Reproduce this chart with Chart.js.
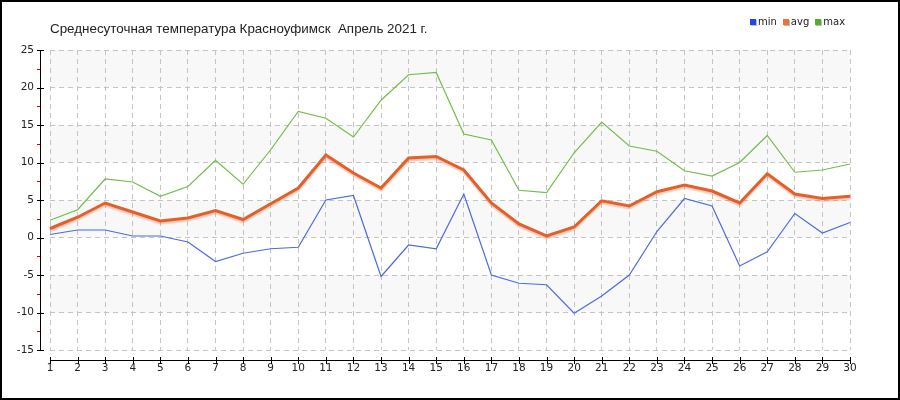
<!DOCTYPE html>
<html>
<head>
<meta charset="utf-8">
<script src="https://cdn.jsdelivr.net/npm/chart.js@4"></script>
<style>
	body { margin: 0; background: #fff; }
	#wrap { position: relative; width: 900px; height: 400px; }
	#title {
		position: absolute; left: 50px; top: 21px;
		font: 13.4px 'Liberation Sans', Arial, sans-serif; color: #222; white-space: pre;
	}
	#legend {
		position: absolute; left: 750px; top: 16px;
		font: 10px 'DejaVu Sans', Verdana, sans-serif; color: #222;
	}
	#legend span.item { margin-right: 6px; }
	#legend i {
		display: inline-block; width: 6px; height: 6px; margin-right: 2px;
		box-shadow: 1px 1px 0 #bbb;
	}
</style>
</head>
<body>
<div id="wrap">
	<canvas id="chart" width="900" height="400"></canvas>
	<div id="title">Среднесуточная температура Красноуфимск  Апрель 2021 г.</div>
	<div id="legend"></div>
</div>
<script>
// --- data ---
const days = ['1', '2', '3', '4', '5', '6', '7', '8', '9', '10', '11', '12', '13', '14', '15',
	'16', '17', '18', '19', '20', '21', '22', '23', '24', '25', '26', '27', '28', '29', '30'];
const tMin = [0.4, 1.0, 1.0, 0.2, 0.2, -0.6, -3.2, -2.1, -1.5, -1.3, 5.0, 5.6, -5.2, -1.0, -1.5,
	5.8, -5.0, -6.1, -6.3, -10.1, -7.8, -5.0, 0.8, 5.2, 4.2, -3.8, -1.9, 3.2, 0.6, 2.0];
const tAvg = [1.2, 2.7, 4.6, 3.4, 2.2, 2.6, 3.6, 2.4, 4.5, 6.6, 11.0, 8.6, 6.6, 10.6, 10.8,
	9.0, 4.6, 1.8, 0.2, 1.4, 4.9, 4.2, 6.1, 7.0, 6.2, 4.6, 8.5, 5.8, 5.2, 5.5];
const tMax = [2.3, 3.7, 7.8, 7.4, 5.5, 6.8, 10.3, 7.1, 11.7, 16.8, 15.9, 13.4, 18.3, 21.7, 22.0,
	13.8, 13.0, 6.3, 6.0, 11.3, 15.4, 12.2, 11.5, 8.9, 8.2, 10.0, 13.6, 8.7, 9.0, 9.8];
const seriesNames = ['min', 'avg', 'max'];
const yMin = -15;
const yMax = 25;
const yStep = 5;

const lineColors = ['#4a6be6', '#e2602a', '#72bd4a'];
const legendColors = ['#2347e6', '#f0703a', '#4fb02d'];

// legend (html)
const legend = document.getElementById('legend');
seriesNames.forEach((n, i) => {
	legend.innerHTML += `<span class="item"><i style="background:${legendColors[i]}"></i>${n}</span>`;
});

// alternating light bands between major ticks
const bandPlugin = {
	id: 'bands',
	beforeDraw(chart) {
		const { ctx, chartArea, scales: { y } } = chart;
		ctx.save();
		ctx.fillStyle = '#f8f8f8';
		for (let v = yMax; v > yMin; v -= yStep) {
			// gray for 20..25, 10..15, 0..5, -10..-5
			if (((yMax - v) / yStep) % 2 === 0) {
				const top = y.getPixelForValue(v);
				const bottom = y.getPixelForValue(v - yStep);
				ctx.fillRect(chartArea.left, top, chartArea.right - chartArea.left, bottom - top);
			}
		}
		ctx.restore();
	}
};

// soft shadow under the avg line
const shadowPlugin = {
	id: 'avgShadow',
	beforeDatasetDraw(chart, args) {
		if (args.index !== 1) return;
		const ctx = chart.ctx;
		ctx.save();
		ctx.shadowColor = 'rgba(235, 110, 70, 0.35)';
		ctx.shadowOffsetY = 2;
		ctx.shadowBlur = 1;
	},
	afterDatasetDraw(chart, args) {
		if (args.index !== 1) return;
		chart.ctx.restore();
	}
};

// axis lines drawn a little away from the plot, plus tick marks and frame
const axesPlugin = {
	id: 'axes',
	afterDraw(chart) {
		const { ctx, chartArea, scales: { x, y } } = chart;
		const ax = chartArea.left - 10;
		const ay = chartArea.bottom + 10;
		ctx.save();
		ctx.strokeStyle = '#000';
		ctx.lineWidth = 1;
		ctx.beginPath();
		ctx.moveTo(ax + 0.5, chartArea.top);
		ctx.lineTo(ax + 0.5, chartArea.bottom + 1);
		ctx.moveTo(chartArea.left, ay + 0.5);
		ctx.lineTo(chartArea.right + 1, ay + 0.5);
		for (let v = yMin; v <= yMax; v += yStep) {
			const py = Math.round(y.getPixelForValue(v)) + 0.5;
			ctx.moveTo(ax - 3, py);
			ctx.lineTo(ax + 4, py);
		}
		x.ticks.forEach((t, i) => {
			const px = Math.round(x.getPixelForTick(i)) + 0.5;
			ctx.moveTo(px, ay - 3);
			ctx.lineTo(px, ay + 4);
		});
		ctx.stroke();
		// red minor ticks
		ctx.strokeStyle = '#e00000';
		ctx.beginPath();
		for (let v = yMin + yStep / 2; v < yMax; v += yStep) {
			const py = Math.round(y.getPixelForValue(v)) + 0.5;
			ctx.moveTo(ax - 3, py);
			ctx.lineTo(ax, py);
		}
		ctx.stroke();
		// outer frame
		ctx.strokeStyle = '#000';
		ctx.lineWidth = 2;
		ctx.strokeRect(1, 1, chart.width - 2, chart.height - 2);
		ctx.restore();
	}
};

const gridStyle = {
	color: '#c4c4c4',
	lineWidth: 1,
	drawTicks: false
};

const tickFont = { family: "'DejaVu Sans', Verdana, sans-serif", size: 10.5 };

const config = {
	type: 'line',
	data: {
		labels: days,
		datasets: [tMin, tAvg, tMax].map((d, i) => ({
			label: seriesNames[i],
			data: d,
			borderColor: lineColors[i],
			backgroundColor: lineColors[i],
			borderWidth: i === 1 ? 3 : 1.2,
			pointRadius: 0,
			tension: 0,
			order: i === 1 ? 0 : 1
		}))
	},
	options: {
		responsive: false,
		animation: false,
		layout: { padding: { top: 50, right: 50, left: 0, bottom: 0 } },
		plugins: {
			legend: { display: false },
			title: { display: false },
			tooltip: { enabled: false }
		},
		scales: {
			x: {
				offset: false,
				grid: gridStyle,
				border: { display: false, dash: [5, 4] },
				ticks: { color: '#222', font: tickFont, padding: 12, maxRotation: 0, autoSkip: false },
				afterFit: (scale) => { scale.height = 50; }
			},
			y: {
				min: yMin,
				max: yMax,
				grid: gridStyle,
				border: { display: false, dash: [5, 4] },
				ticks: { stepSize: yStep, color: '#222', font: tickFont, padding: 16 },
				afterFit: (scale) => { scale.width = 50; }
			}
		}
	},
	plugins: [bandPlugin, shadowPlugin, axesPlugin]
};

new Chart(document.getElementById('chart'), config);
</script>
</body>
</html>
